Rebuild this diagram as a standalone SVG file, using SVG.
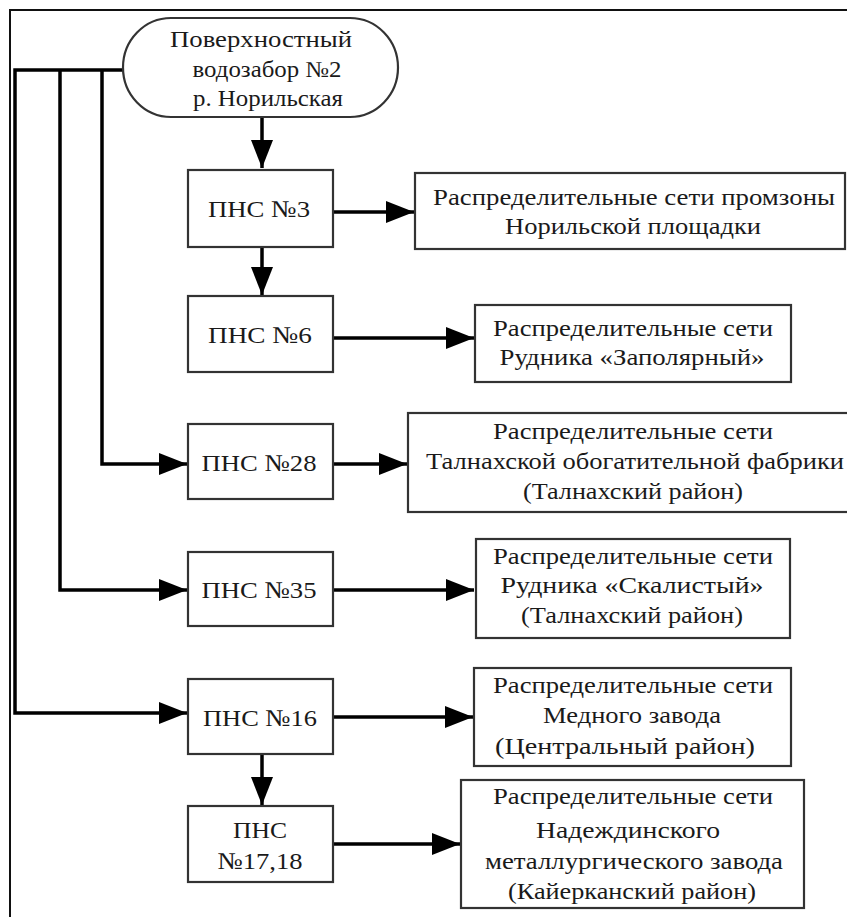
<svg xmlns="http://www.w3.org/2000/svg" width="847" height="917" viewBox="0 0 847 917" font-family="Liberation Serif, Times New Roman, Tinos, DejaVu Serif, Noto Serif, serif">
<style>
  .frame{fill:none;stroke:#111;stroke-width:2}
  .box{fill:#fff;stroke:#333;stroke-width:2.2}
  text{font-size:24px;fill:#1a1a1a;text-anchor:middle}
  .tt{font-size:23px}
  .c{fill:none;stroke:#000;stroke-width:3.5}
</style>
<defs>
  <marker id="ah" markerUnits="userSpaceOnUse" markerWidth="28" markerHeight="22" refX="28" refY="11" orient="auto">
    <path d="M0,0 L28,11 L0,22 z" fill="#000"/>
  </marker>
</defs>
<rect width="847" height="917" fill="#fff"/>
<path class="frame" d="M10,917 V10 H847"/>

<g id="connectors">
  <path class="c" d="M262,117 V168" marker-end="url(#ah)"/>
  <path class="c" d="M333,212 H414" marker-end="url(#ah)"/>
  <path class="c" d="M262,247 V295" marker-end="url(#ah)"/>
  <path class="c" d="M333,338 H474" marker-end="url(#ah)"/>
  <path class="c" d="M123,70 H15 V713 H187" marker-end="url(#ah)"/>
  <path class="c" d="M60,70 V590 H187" marker-end="url(#ah)"/>
  <path class="c" d="M102,70 V464 H187" marker-end="url(#ah)"/>
  <path class="c" d="M333,464 H407" marker-end="url(#ah)"/>
  <path class="c" d="M333,590 H474" marker-end="url(#ah)"/>
  <path class="c" d="M333,717 H473" marker-end="url(#ah)"/>
  <path class="c" d="M262,754 V805" marker-end="url(#ah)"/>
  <path class="c" d="M333,844 H460" marker-end="url(#ah)"/>
</g>

<g id="source">
  <rect class="box" x="123" y="18" width="275" height="99" rx="48" ry="49.5"/>
  <text class="tt" x="261" y="47" textLength="182" lengthAdjust="spacingAndGlyphs">Поверхностный</text>
  <text class="tt" x="267" y="77" textLength="149" lengthAdjust="spacingAndGlyphs">водозабор №2</text>
  <text class="tt" x="268" y="106" textLength="150" lengthAdjust="spacingAndGlyphs">р. Норильская</text>
</g>

<g id="pns3">
  <rect class="box" x="188" y="170" width="145" height="77"/>
  <text x="259" y="217" textLength="102" lengthAdjust="spacingAndGlyphs">ПНС №3</text>
</g>
<g id="net1">
  <rect class="box" x="415" y="173" width="430" height="76"/>
  <text x="634" y="205" textLength="402" lengthAdjust="spacingAndGlyphs">Распределительные сети промзоны</text>
  <text x="633" y="234" textLength="256" lengthAdjust="spacingAndGlyphs">Норильской площадки</text>
</g>

<g id="pns6">
  <rect class="box" x="188" y="296" width="145" height="76"/>
  <text x="260" y="343" textLength="104" lengthAdjust="spacingAndGlyphs">ПНС №6</text>
</g>
<g id="net2">
  <rect class="box" x="475" y="305" width="316" height="77"/>
  <text x="633" y="336" textLength="280" lengthAdjust="spacingAndGlyphs">Распределительные сети</text>
  <text x="632" y="365" textLength="265" lengthAdjust="spacingAndGlyphs">Рудника «Заполярный»</text>
</g>

<g id="pns28">
  <rect class="box" x="188" y="424" width="145" height="75"/>
  <text x="259" y="471" textLength="115" lengthAdjust="spacingAndGlyphs">ПНС №28</text>
</g>
<g id="net3">
  <rect class="box" x="408" y="413" width="460" height="99"/>
  <text x="633" y="439" textLength="280" lengthAdjust="spacingAndGlyphs">Распределительные сети</text>
  <text x="635" y="469" textLength="418" lengthAdjust="spacingAndGlyphs">Талнахской обогатительной фабрики</text>
  <text x="633" y="499" textLength="220" lengthAdjust="spacingAndGlyphs">(Талнахский район)</text>
</g>

<g id="pns35">
  <rect class="box" x="188" y="552" width="145" height="74"/>
  <text x="259" y="598" textLength="115" lengthAdjust="spacingAndGlyphs">ПНС №35</text>
</g>
<g id="net4">
  <rect class="box" x="476" y="539" width="314" height="99"/>
  <text x="633" y="564" textLength="280" lengthAdjust="spacingAndGlyphs">Распределительные сети</text>
  <text x="632" y="593" textLength="263" lengthAdjust="spacingAndGlyphs">Рудника «Скалистый»</text>
  <text x="632" y="623" textLength="222" lengthAdjust="spacingAndGlyphs">(Талнахский район)</text>
</g>

<g id="pns16">
  <rect class="box" x="188" y="679" width="145" height="75"/>
  <text x="260" y="726" textLength="114" lengthAdjust="spacingAndGlyphs">ПНС №16</text>
</g>
<g id="net5">
  <rect class="box" x="474" y="668" width="317" height="98"/>
  <text x="633" y="693" textLength="280" lengthAdjust="spacingAndGlyphs">Распределительные сети</text>
  <text x="632" y="723" textLength="178" lengthAdjust="spacingAndGlyphs">Медного завода</text>
  <text x="625" y="754" textLength="260" lengthAdjust="spacingAndGlyphs">(Центральный район)</text>
</g>

<g id="pns1718">
  <rect class="box" x="188" y="806" width="145" height="76"/>
  <text x="260" y="838" textLength="54" lengthAdjust="spacingAndGlyphs">ПНС</text>
  <text x="260" y="869" textLength="85" lengthAdjust="spacingAndGlyphs">№17,18</text>
</g>
<g id="net6">
  <rect class="box" x="461" y="780" width="343" height="128"/>
  <text x="633" y="804" textLength="280" lengthAdjust="spacingAndGlyphs">Распределительные сети</text>
  <text x="628" y="838" textLength="184" lengthAdjust="spacingAndGlyphs">Надеждинского</text>
  <text x="634" y="869" textLength="298" lengthAdjust="spacingAndGlyphs">металлургического завода</text>
  <text x="632" y="899" textLength="248" lengthAdjust="spacingAndGlyphs">(Кайерканский район)</text>
</g>
</svg>
